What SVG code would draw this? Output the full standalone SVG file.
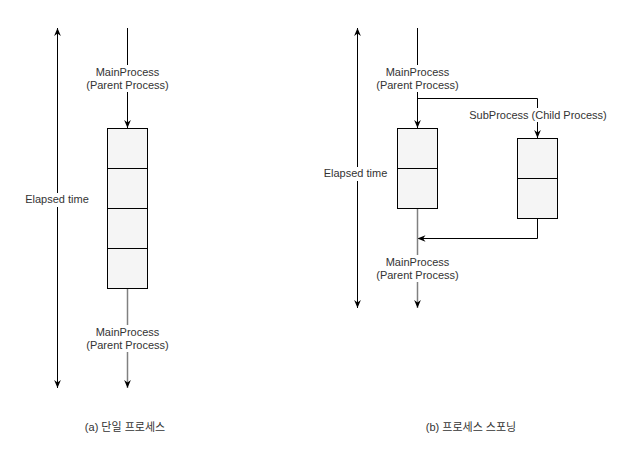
<svg xmlns="http://www.w3.org/2000/svg" width="633" height="451" viewBox="0 0 633 451">
<style>
text{font-family:"Liberation Sans","Noto Sans CJK KR",Arial,sans-serif;font-size:11px;fill:#333;text-anchor:middle}
.ln{fill:none;stroke:#000;stroke-width:1}
.gr{fill:none;stroke:#808080;stroke-width:1.5}
.bx{fill:#f5f5f5;stroke:#000;stroke-width:1}
.bg{fill:#fff}
</style>
<defs>
<marker id="ah" viewBox="0 0 10 10" refX="10" refY="5" markerWidth="8" markerHeight="8" markerUnits="userSpaceOnUse" orient="auto-start-reverse">
<path d="M0,0.8 L10,5 L0,9.2 L3,5 Z" fill="#000"/>
</marker>
</defs>
<g id="connectors">
<line class="ln" x1="57.5" y1="28" x2="57.5" y2="388" marker-start="url(#ah)" marker-end="url(#ah)"/>
<line class="ln" x1="127.5" y1="28" x2="127.5" y2="128" marker-end="url(#ah)"/>
<line class="gr" x1="127.5" y1="288.5" x2="127.5" y2="388" marker-end="url(#ah)"/>
<line class="ln" x1="357.5" y1="28" x2="357.5" y2="308" marker-start="url(#ah)" marker-end="url(#ah)"/>
<line class="ln" x1="417.5" y1="28" x2="417.5" y2="128" marker-end="url(#ah)"/>
<polyline class="ln" points="417.5,98.5 537.5,98.5 537.5,138" marker-end="url(#ah)"/>
<polyline class="ln" points="537.5,218.5 537.5,238.5 417.5,238.5" marker-end="url(#ah)"/>
<line class="gr" x1="417.5" y1="208.5" x2="417.5" y2="308" marker-end="url(#ah)"/>
</g>
<g id="left-box">
<rect class="bx" x="107.5" y="128.5" width="40" height="160"/>
<line class="ln" x1="107.5" y1="168.5" x2="147.5" y2="168.5"/>
<line class="ln" x1="107.5" y1="208.5" x2="147.5" y2="208.5"/>
<line class="ln" x1="107.5" y1="248.5" x2="147.5" y2="248.5"/>
</g>
<g id="right-main-box">
<rect class="bx" x="397.5" y="128.5" width="40" height="80"/>
<line class="ln" x1="397.5" y1="168.5" x2="437.5" y2="168.5"/>
</g>
<g id="right-sub-box">
<rect class="bx" x="517.5" y="138.5" width="40" height="80"/>
<line class="ln" x1="517.5" y1="178.5" x2="557.5" y2="178.5"/>
</g>
<g id="labels">
<rect class="bg" x="86" y="65" width="83" height="27"/>
<text x="127.5" y="76">MainProcess</text>
<text x="127.5" y="89">(Parent Process)</text>
<rect class="bg" x="86" y="325" width="83" height="27"/>
<text x="127.5" y="336">MainProcess</text>
<text x="127.5" y="349">(Parent Process)</text>
<rect class="bg" x="24" y="193" width="66" height="14"/>
<text x="57" y="203">Elapsed time</text>
<rect class="bg" x="376" y="65" width="83" height="27"/>
<text x="417.5" y="76">MainProcess</text>
<text x="417.5" y="89">(Parent Process)</text>
<rect class="bg" x="376" y="255" width="83" height="27"/>
<text x="417.5" y="266">MainProcess</text>
<text x="417.5" y="279">(Parent Process)</text>
<rect class="bg" x="323" y="167" width="66" height="14"/>
<text x="355.5" y="177">Elapsed time</text>
<rect class="bg" x="469" y="108" width="138" height="14"/>
<text x="538" y="119">SubProcess (Child Process)</text>
<text x="125" y="431">(a) 단일 프로세스</text>
<text x="471" y="431">(b) 프로세스 스포닝</text>
</g>
</svg>
